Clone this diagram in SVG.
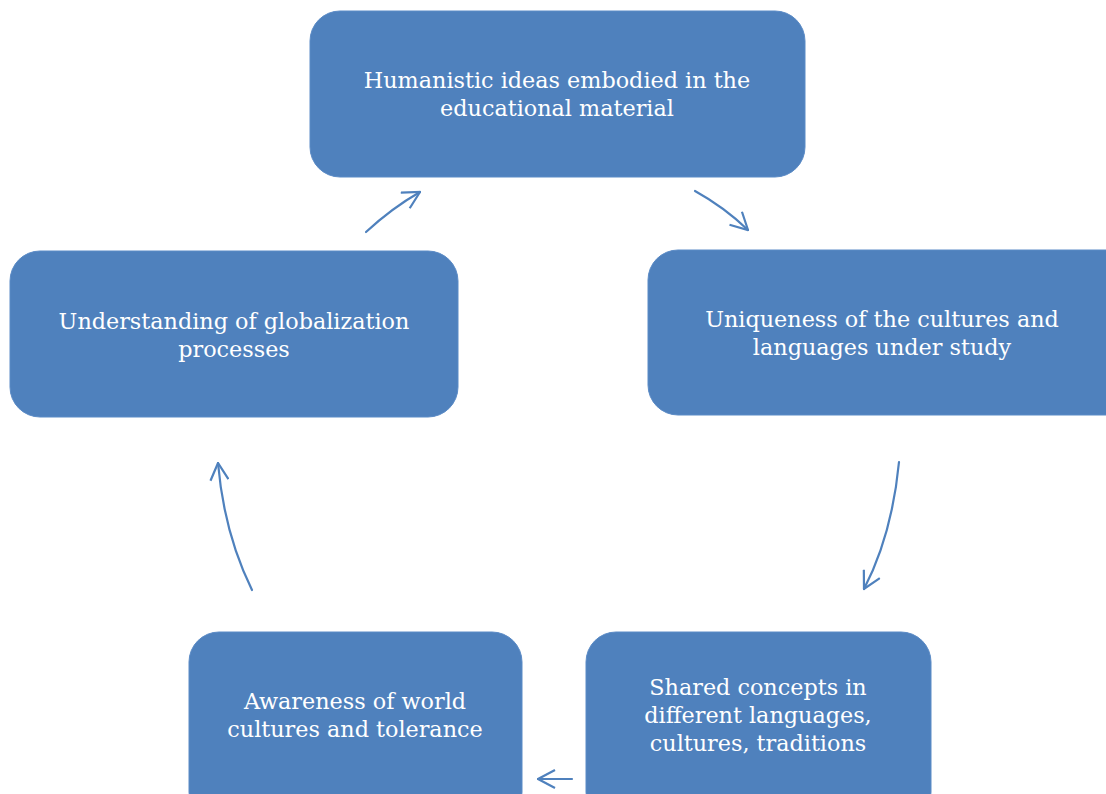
<svg xmlns="http://www.w3.org/2000/svg" width="1106" height="794" viewBox="0 0 1106 794">
<defs>
<style>
.box{fill:#4F81BD;stroke:#5B8BC6;stroke-width:1}
.t{font-family:"DejaVu Serif","Liberation Serif",serif;font-size:22.3px;fill:#FFFFFF;text-anchor:middle}
.c{fill:none;stroke:#4F81BD;stroke-width:2.2;stroke-linecap:round}
</style>
<marker id="ah2" viewBox="0 0 20 20" refX="19" refY="10" markerWidth="20" markerHeight="20" markerUnits="userSpaceOnUse" orient="auto">
<path d="M2,1 L19,10 L2,19" fill="none" stroke="#4F81BD" stroke-width="2.2"/>
</marker>
</defs>
<rect width="1106" height="794" fill="#FFFFFF"/>
<g id="node-humanistic">
<rect class="box" x="310" y="11" width="495" height="166" rx="30"/>
<text class="t" x="557" y="88">Humanistic ideas embodied in the</text>
<text class="t" x="557" y="116">educational material</text>
</g>
<g id="node-uniqueness">
<rect class="box" x="648" y="250" width="490" height="165" rx="30"/>
<text class="t" x="882" y="327">Uniqueness of the cultures and</text>
<text class="t" x="882" y="355">languages under study</text>
</g>
<g id="node-shared">
<rect class="box" x="586" y="632" width="345" height="190" rx="30"/>
<text class="t" x="758" y="695">Shared concepts in</text>
<text class="t" x="758" y="723">different languages,</text>
<text class="t" x="758" y="751">cultures, traditions</text>
</g>
<g id="node-awareness">
<rect class="box" x="189" y="632" width="333" height="190" rx="30"/>
<text class="t" x="355" y="709">Awareness of world</text>
<text class="t" x="355" y="737">cultures and tolerance</text>
</g>
<g id="node-globalization">
<rect class="box" x="10" y="251" width="448" height="166" rx="30"/>
<text class="t" x="234" y="329">Understanding of globalization</text>
<text class="t" x="234" y="357">processes</text>
</g>
<g id="connectors">
<path class="c" d="M366,232 Q392,208 420,192" marker-end="url(#ah2)"/>
<path class="c" d="M695,191 Q724,207 748,230" marker-end="url(#ah2)"/>
<path class="c" d="M899,462 Q892,535 864,589" marker-end="url(#ah2)"/>
<path class="c" d="M252,590 Q224,533 218,463" marker-end="url(#ah2)"/>
<path class="c" d="M572,779 L538,779" marker-end="url(#ah2)"/>
</g>
</svg>
